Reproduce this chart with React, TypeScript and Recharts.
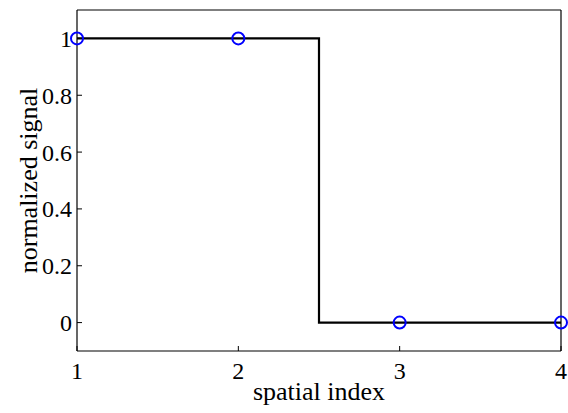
import { ComposedChart, Line, XAxis, YAxis, Label } from 'recharts'

document.body.style.margin = '0'

const spatialIndex = [1, 2, 3, 4]
const signal = [1, 1, 0, 0]
const xTicks = [1, 2, 3, 4]
const yTicks = [0, 0.2, 0.4, 0.6, 0.8, 1]

const data = spatialIndex.map((x, i) => ({ x, y: signal[i] }))

const FONT = '"Liberation Serif", "Times New Roman", serif'
const FS = 24
const TITLE_FS = 26
const tickStyle = { fill: '#000', fontSize: FS, fontFamily: FONT }
const axisLine = { stroke: '#000', strokeWidth: 1.2 }

function YTitle({ viewBox }: any) {
  const cx = 37
  const cy = viewBox.y + viewBox.height / 2
  return (
    <text x={cx} y={cy} transform={`rotate(-90 ${cx} ${cy})`} textAnchor="middle"
      fill="#000" fontSize={TITLE_FS} fontFamily={FONT}>
      normalized signal
    </text>
  )
}

function XTitle({ viewBox }: any) {
  const cx = viewBox.x + viewBox.width / 2
  return (
    <text x={cx} y={400} textAnchor="middle" fill="#000" fontSize={TITLE_FS} fontFamily={FONT}>
      spatial index
    </text>
  )
}

export default function App() {
  return (
    <ComposedChart width={568} height={413} data={data} margin={{ top: 9, right: 6, bottom: 22, left: 17 }}>
      <XAxis xAxisId="bottom" dataKey="x" type="number" domain={[1, 4]} ticks={xTicks}
        tick={tickStyle} tickSize={-5} tickMargin={16} height={40}
        axisLine={axisLine} tickLine={{ stroke: '#000' }}>
        <Label content={<XTitle />} />
      </XAxis>
      <XAxis xAxisId="top" orientation="top" dataKey="x" type="number" domain={[1, 4]} ticks={xTicks}
        tick={false} tickSize={-5} height={1} axisLine={axisLine} tickLine={{ stroke: '#000' }} />
      <YAxis yAxisId="left" type="number" domain={[-0.1, 1.1]} ticks={yTicks}
        tickFormatter={(v: number) => String(v)}
        tick={tickStyle} tickSize={-5} tickMargin={10} width={60}
        axisLine={axisLine} tickLine={{ stroke: '#000' }}>
        <Label content={<YTitle />} />
      </YAxis>
      <YAxis yAxisId="right" orientation="right" type="number" domain={[-0.1, 1.1]} ticks={yTicks}
        tick={false} tickSize={-5} width={1} axisLine={axisLine} tickLine={{ stroke: '#000' }} />
      <Line xAxisId="bottom" yAxisId="left" type="step" dataKey="y" stroke="#000" strokeWidth={2.2}
        dot={false} isAnimationActive={false} />
      <Line xAxisId="bottom" yAxisId="left" type="linear" dataKey="y" stroke="none"
        dot={{ r: 6, stroke: '#0000ff', strokeWidth: 2, fill: 'none' }} activeDot={false}
        isAnimationActive={false} />
    </ComposedChart>
  )
}
